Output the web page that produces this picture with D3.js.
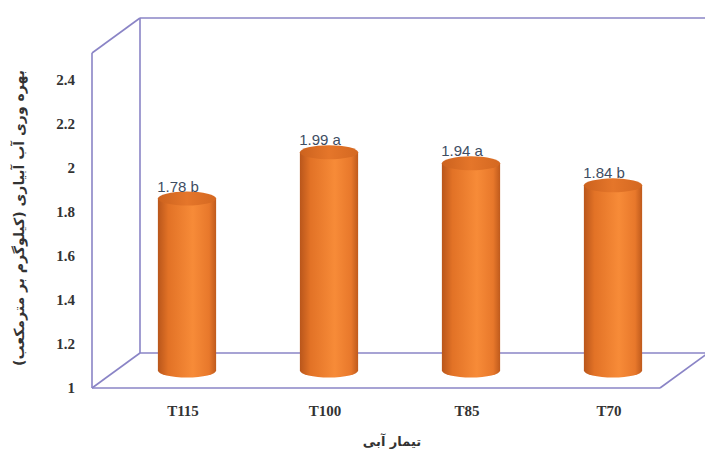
<!DOCTYPE html>
<html>
<head>
<meta charset="utf-8">
<script src="https://cdn.jsdelivr.net/npm/d3@7"></script>
<style>
  body { margin: 0; background: #fff; }
  svg { display: block; }
</style>
</head>
<body>
<svg id="chart"></svg>
<script>
// data
const categories = ['T115', 'T100', 'T85', 'T70'];
const values = [1.78, 1.99, 1.94, 1.84];
const letters = ['b', 'a', 'a', 'b'];
const yTicks = [1, 1.2, 1.4, 1.6, 1.8, 2, 2.2, 2.4];
const yTitle = 'بهره وری آب آبیاری (کیلوگرم بر مترمکعب)';
const xTitle = 'تیمار آبی';

const width = 705, height = 452;
const frameColor = '#8a84c6';

// front plane of the 3d box, plus the depth offset to the back wall
const front = { left: 92, right: 660, top: 53, bottom: 388 };
const depth = { dx: 48, dy: -35 };

const svg = d3.select('#chart')
  .attr('width', width)
  .attr('height', height);

const x = d3.scaleBand()
  .domain(categories)
  .range([front.left, front.right]);

const y = d3.scaleLinear()
  .domain([1, 2.52])
  .range([front.bottom, front.top]);

// gradients for the cylinders
const defs = svg.append('defs');
const bodyGrad = defs.append('linearGradient').attr('id', 'cylBody')
  .attr('x1', '0%').attr('x2', '100%').attr('y1', '0%').attr('y2', '0%');
bodyGrad.append('stop').attr('offset', '0%').attr('stop-color', '#b9561b');
bodyGrad.append('stop').attr('offset', '18%').attr('stop-color', '#e27226');
bodyGrad.append('stop').attr('offset', '60%').attr('stop-color', '#f78b38');
bodyGrad.append('stop').attr('offset', '88%').attr('stop-color', '#e8782b');
bodyGrad.append('stop').attr('offset', '100%').attr('stop-color', '#bf5a1c');

const capGrad = defs.append('linearGradient').attr('id', 'cylTop')
  .attr('x1', '0%').attr('x2', '100%').attr('y1', '0%').attr('y2', '0%');
capGrad.append('stop').attr('offset', '0%').attr('stop-color', '#cc621e');
capGrad.append('stop').attr('offset', '50%').attr('stop-color', '#e5762a');
capGrad.append('stop').attr('offset', '100%').attr('stop-color', '#d46821');

// frame of the box (walls + floor)
const frame = svg.append('g')
  .attr('class', 'frame')
  .attr('fill', 'none')
  .attr('stroke', frameColor)
  .attr('stroke-width', 1.6);

const bx = front.left + depth.dx;
const frameLines = [
  [front.left, y.range()[1], front.left, front.bottom],
  [front.left, y.range()[1], bx, y.range()[1] + depth.dy],
  [bx, y.range()[1] + depth.dy, bx, front.bottom + depth.dy],
  [bx, y.range()[1] + depth.dy, width, y.range()[1] + depth.dy],
  [bx, front.bottom + depth.dy, width, front.bottom + depth.dy],
  [front.left, front.bottom, bx, front.bottom + depth.dy],
  [front.left, front.bottom, front.right, front.bottom],
  [front.right, front.bottom, front.right + depth.dx, front.bottom + depth.dy]
];
frame.selectAll('line')
  .data(frameLines)
  .join('line')
  .attr('x1', d => d[0]).attr('y1', d => d[1])
  .attr('x2', d => d[2]).attr('y2', d => d[3]);

// y tick labels (no axis line in the reference)
svg.append('g')
  .selectAll('text')
  .data(yTicks)
  .join('text')
  .attr('x', 75)
  .attr('y', d => y(d))
  .attr('dy', '0.35em')
  .attr('text-anchor', 'end')
  .style('font-family', '"Liberation Serif", serif')
  .style('font-weight', 'bold')
  .style('font-size', '15px')
  .attr('fill', '#333')
  .text(d => d);

// cylinders sit halfway into the box
const midDx = depth.dx / 2, midDy = depth.dy / 2;
const barW = x.bandwidth() * 0.41;
const rx = barW / 2, ry = 7;
const data = categories.map((c, i) => ({ cat: c, value: values[i], letter: letters[i] }));

const bars = svg.append('g').attr('class', 'bars')
  .selectAll('g')
  .data(data)
  .join('g');

bars.append('path')
  .attr('fill', 'url(#cylBody)')
  .attr('d', d => {
    const cx = x(d.cat) + x.bandwidth() / 2 + midDx;
    const yt = y(d.value) + midDy;
    const yb = y(1) + midDy;
    return `M${cx - rx},${yt} L${cx - rx},${yb} A${rx},${ry} 0 0 0 ${cx + rx},${yb} L${cx + rx},${yt} Z`;
  });

bars.append('ellipse')
  .attr('cx', d => x(d.cat) + x.bandwidth() / 2 + midDx)
  .attr('cy', d => y(d.value) + midDy)
  .attr('rx', rx)
  .attr('ry', ry)
  .attr('fill', 'url(#cylTop)');

// value labels
bars.append('text')
  .attr('x', d => x(d.cat) + x.bandwidth() / 2 + midDx - 9)
  .attr('y', d => y(d.value) + midDy - 7)
  .attr('text-anchor', 'middle')
  .style('font-family', '"Liberation Sans", Arial, sans-serif')
  .style('font-size', '15px')
  .attr('fill', '#3e4d62')
  .text(d => `${d.value} ${d.letter}`);

// category labels
svg.append('g')
  .selectAll('text')
  .data(categories)
  .join('text')
  .attr('x', d => x(d) + x.bandwidth() / 2 + midDx - 4)
  .attr('y', 416)
  .attr('text-anchor', 'middle')
  .style('font-family', '"Liberation Serif", serif')
  .style('font-weight', 'bold')
  .style('font-size', '15px')
  .attr('fill', '#333')
  .text(d => d);

// axis titles
svg.append('text')
  .attr('x', 392)
  .attr('y', 446)
  .attr('text-anchor', 'middle')
  .attr('direction', 'rtl')
  .style('font-family', '"DejaVu Sans", sans-serif')
  .style('font-weight', 'bold')
  .style('font-size', '13px')
  .attr('fill', '#333')
  .text(xTitle);

svg.append('text')
  .attr('transform', 'translate(24,218) rotate(-90)')
  .attr('text-anchor', 'middle')
  .attr('direction', 'rtl')
  .style('font-family', '"DejaVu Sans", sans-serif')
  .style('font-weight', 'bold')
  .style('font-size', '14px')
  .attr('fill', '#333')
  .text(yTitle);
</script>
</body>
</html>
